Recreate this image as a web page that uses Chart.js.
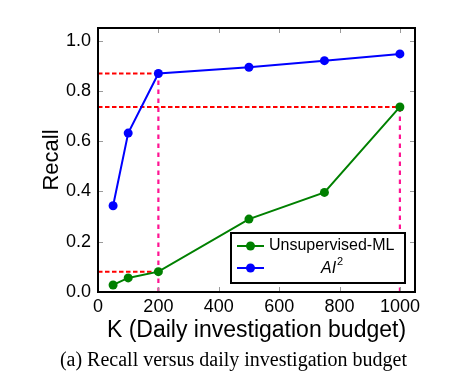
<!DOCTYPE html>
<html>
<head>
<meta charset="utf-8">
<script src="https://cdn.jsdelivr.net/npm/chart.js@4.4.0/dist/chart.umd.min.js"></script>
<style>
  html, body { margin: 0; padding: 0; background: #fff; }
  #wrap { position: relative; width: 467px; height: 378px; }
  #caption { position: absolute; left: 0; width: 467px; top: 348px; text-align: center;
    font-family: "Liberation Serif", "DejaVu Serif", serif; font-size: 20px; color: #000; }
</style>
</head>
<body>
<div id="wrap">
  <canvas id="c" width="467" height="378"></canvas>
  <div id="caption">(a) Recall versus daily investigation budget</div>
</div>
<script>
const budgets = [50, 100, 200, 500, 750, 1000];
const unsupervisedML = [0.028, 0.056, 0.081, 0.290, 0.396, 0.736];
const aiSquared = [0.343, 0.632, 0.869, 0.894, 0.920, 0.947];
const xTickValues = [0, 200, 400, 600, 800, 1000];
const yTickValues = [0.0, 0.2, 0.4, 0.6, 0.8, 1.0];
const seriesLabels = ["Unsupervised-ML", "AI\u00b2"];

const pts = (xs, ys) => xs.map((x, i) => ({ x: x, y: ys[i] }));
const FONT = "'Liberation Sans', Arial, Helvetica, sans-serif";

// reference lines built from the data
const redH = [
  [{ x: 0, y: aiSquared[2] }, { x: budgets[2], y: aiSquared[2] }],
  [{ x: 0, y: unsupervisedML[5] }, { x: budgets[5], y: unsupervisedML[5] }],
  [{ x: 0, y: unsupervisedML[2] }, { x: budgets[2], y: unsupervisedML[2] }]
];
const pinkV = [
  [{ x: budgets[2], y: 0 }, { x: budgets[2], y: aiSquared[2] }],
  [{ x: budgets[5], y: 0 }, { x: budgets[5], y: unsupervisedML[5] }]
];

const datasets = [
  { label: seriesLabels[0], data: pts(budgets, unsupervisedML), borderColor: '#008000', backgroundColor: '#008000',
    borderWidth: 2, pointRadius: 4.5, pointHoverRadius: 4.5, pointBorderWidth: 0, order: 0 },
  { label: seriesLabels[1], data: pts(budgets, aiSquared), borderColor: '#0000ff', backgroundColor: '#0000ff',
    borderWidth: 2, pointRadius: 4.5, pointHoverRadius: 4.5, pointBorderWidth: 0, order: 0 }
];
redH.forEach(d => datasets.push({ label: '_ref', data: d, borderColor: '#ff0000', borderWidth: 2,
  borderDash: [4.5, 2.5], pointRadius: 0, order: 2 }));
pinkV.forEach(d => datasets.push({ label: '_ref', data: d, borderColor: '#ff1493', borderWidth: 2.2,
  borderDash: [4.5, 4.5], pointRadius: 0, order: 3 }));

const frameAndTicks = {
  id: 'frameAndTicks',
  afterDatasetsDraw(chart) {
    const { ctx, chartArea: a, scales } = chart;
    ctx.save();
    ctx.strokeStyle = '#9a9a9a';
    ctx.lineWidth = 1;
    const L = 5;
    xTickValues.forEach(v => {
      const px = Math.round(scales.x.getPixelForValue(v)) + 0.5;
      ctx.beginPath();
      ctx.moveTo(px, a.bottom); ctx.lineTo(px, a.bottom - L);
      ctx.moveTo(px, a.top); ctx.lineTo(px, a.top + L);
      ctx.stroke();
    });
    yTickValues.forEach(v => {
      const py = Math.round(scales.y.getPixelForValue(v)) + 0.5;
      ctx.beginPath();
      ctx.moveTo(a.left, py); ctx.lineTo(a.left + L, py);
      ctx.moveTo(a.right, py); ctx.lineTo(a.right - L, py);
      ctx.stroke();
    });
    ctx.strokeStyle = '#000';
    ctx.lineWidth = 2;
    ctx.strokeRect(a.left, a.top, a.right - a.left, a.bottom - a.top);

    // legend
    const bx = 231, by = 233, bw = 174, bh = 50;
    ctx.fillStyle = '#fff';
    ctx.fillRect(bx, by, bw, bh);
    ctx.strokeRect(bx, by, bw, bh);
    const rows = [
      { color: '#008000', y: 246 },
      { color: '#0000ff', y: 268 }
    ];
    rows.forEach(r => {
      ctx.strokeStyle = r.color; ctx.lineWidth = 2;
      ctx.beginPath(); ctx.moveTo(237, r.y); ctx.lineTo(264, r.y); ctx.stroke();
      ctx.fillStyle = r.color;
      ctx.beginPath(); ctx.arc(250.5, r.y, 4.5, 0, Math.PI * 2); ctx.fill();
    });
    ctx.fillStyle = '#000';
    ctx.textBaseline = 'middle';
    ctx.textAlign = 'left';
    ctx.font = "16px " + FONT;
    ctx.fillText(seriesLabels[0], 269, 246);
    ctx.font = "italic 16px " + FONT;
    ctx.fillText("AI", 321, 269);
    const w = ctx.measureText("AI").width;
    ctx.font = "11px " + FONT;
    ctx.fillText("2", 321 + w + 1, 262);
    ctx.restore();
  }
};

new Chart(document.getElementById('c'), {
  type: 'line',
  data: { datasets },
  options: {
    responsive: false,
    animation: false,
    layout: { padding: { left: 0, right: 52, top: 28, bottom: 0 } },
    plugins: { legend: { display: false }, tooltip: { enabled: false } },
    scales: {
      x: {
        type: 'linear', min: 0, max: 1050,
        afterBuildTicks: s => { s.ticks = xTickValues.map(v => ({ value: v })); },
        afterFit: s => { s.height = 86; },
        grid: { display: false, drawTicks: false },
        border: { display: false },
        ticks: { color: '#000', font: { family: FONT, size: 18 }, padding: 4, maxRotation: 0,
          callback: v => String(v) },
        title: { display: true, text: 'K (Daily investigation budget)', color: '#000',
          font: { family: FONT, size: 23 }, padding: { top: 0, bottom: 34 } }
      },
      y: {
        type: 'linear', min: 0, max: 1.05,
        afterBuildTicks: s => { s.ticks = yTickValues.map(v => ({ value: v })); },
        afterFit: s => { s.width = 98; },
        grid: { display: false, drawTicks: false },
        border: { display: false },
        ticks: { color: '#000', font: { family: FONT, size: 18 }, padding: 7,
          callback: v => Number(v).toFixed(1) },
        title: { display: true, text: 'Recall', color: '#000',
          font: { family: FONT, size: 22 }, padding: { top: 39, bottom: 0 } }
      }
    }
  },
  plugins: [frameAndTicks]
});
</script>
</body>
</html>
